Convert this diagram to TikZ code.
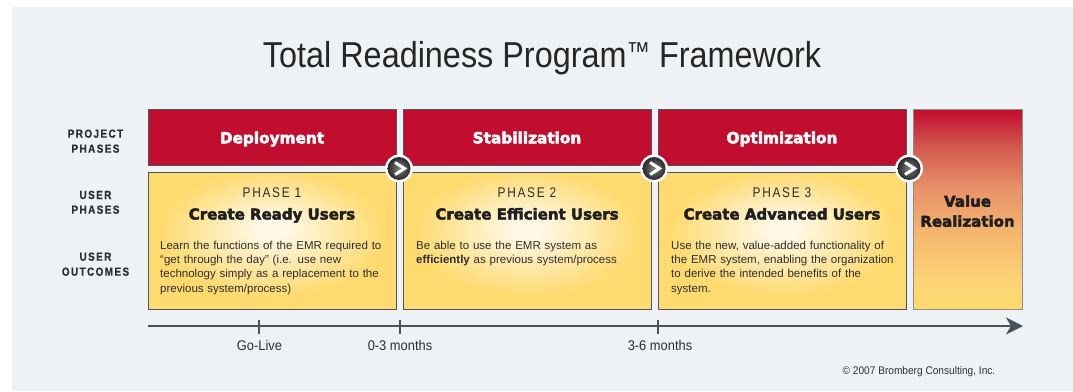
\documentclass[tikz,border=0pt]{standalone}
\usepackage{fontspec}
\setmainfont{Liberation Sans}
\newfontfamily\titlefont[FakeStretch=0.9]{Liberation Sans}
\newfontfamily\heavyfont[BoldFeatures={FakeBold=3}]{DejaVu Sans}
\newfontfamily\lblfont[FakeStretch=0.85,LetterSpace=12,BoldFeatures={FakeBold=0.6}]{Liberation Sans}
\newfontfamily\phasefont[FakeStretch=0.85,LetterSpace=12]{Liberation Sans}
\newfontfamily\condfont[FakeStretch=0.92]{Liberation Sans}
\usetikzlibrary{arrows.meta}
\definecolor{bgc}{HTML}{EEF2F4}
\definecolor{redc}{HTML}{C10E2F}
\definecolor{bordc}{HTML}{4A5663}
\definecolor{yel}{HTML}{FFDA6E}
\definecolor{glowc}{HTML}{FFF8E6}
\definecolor{txtc}{HTML}{2E2E2E}
\definecolor{axisc}{HTML}{46535E}
\definecolor{yeltwo}{HTML}{FDD576}
\definecolor{orgone}{HTML}{F5BA6E}
\definecolor{orgtwo}{HTML}{E8926A}
\definecolor{redtwo}{HTML}{D2574D}
\definecolor{vbord}{HTML}{8A8C8E}
\pgfdeclareradialshading{yglow}{\pgfpoint{0bp}{5bp}}{color(0bp)=(glowc); color(3bp)=(glowc); color(23bp)=(yel); color(50bp)=(yel)}
\pgfdeclareverticalshading{vgrad}{100bp}{color(0bp)=(yel); color(25bp)=(yel); color(31bp)=(yeltwo); color(43bp)=(orgone); color(55bp)=(orgtwo); color(66bp)=(redtwo); color(75bp)=(redc); color(100bp)=(redc)}
\begin{document}
\begin{tikzpicture}[x=1pt,y=-1pt,
  redbox/.style={fill=redc, draw=bordc, line width=0.9pt, inner sep=0pt, anchor=north west, minimum width=248pt, minimum height=56pt},
  ybox/.style={shade, shading=yglow, draw=bordc, line width=0.9pt, inner sep=0pt, anchor=north west, minimum width=248pt, minimum height=137pt},
  vbox/.style={shade, shading=vgrad, draw=vbord, line width=0.9pt, inner sep=0pt, anchor=north west, minimum width=109pt, minimum height=200pt},
  redtxt/.style={anchor=base, inner sep=0pt, text=white, font=\heavyfont\bfseries\fontsize{15.3}{18}\selectfont},
  headtxt/.style={anchor=base, inner sep=0pt, text=black!88, font=\heavyfont\bfseries\fontsize{15}{20}\selectfont},
  phasetxt/.style={anchor=base, inner sep=0pt, text=txtc, font=\phasefont\fontsize{14}{14}\selectfont},
  bodytxt/.style={anchor=north west, inner sep=0pt, text width=250pt, align=left, text=txtc, font=\fontsize{11.5}{14.2}\selectfont},
  sidetxt/.style={anchor=base, inner sep=0pt, align=center, text=black!82, font=\lblfont\bfseries\fontsize{11.7}{15}\selectfont},
  axtxt/.style={anchor=base, inner sep=0pt, text=txtc, font=\condfont\fontsize{14}{14}\selectfont},
  arrowdot/.style={circle, fill=white, minimum size=28pt, inner sep=0pt},
  axisline/.style={draw=axisc, line width=2.6pt},
  tickline/.style={draw=axisc, line width=2pt}
]
\useasboundingbox (0,0) rectangle (1073,391);
\fill[bgc] (12,7) rectangle (1073,391);

% title
\node[anchor=base, inner sep=0pt, text=black!85, font=\titlefont\fontsize{36}{36}\selectfont] (title) at (542,67.7)
  {Total Readiness Program\raisebox{7pt}{\fontsize{26}{26}\selectfont ™} Framework};

% side labels
\node[sidetxt] (lp1) at (95.5,137.7) {PROJECT};
\node[sidetxt] (lp2) at (95.5,152.7) {PHASES};
\node[sidetxt] (lu1) at (95.5,199) {USER};
\node[sidetxt] (lu2) at (95.5,213.7) {PHASES};
\node[sidetxt] (lo1) at (95.5,260.7) {USER};
\node[sidetxt] (lo2) at (95.5,275.7) {OUTCOMES};

% red boxes
\node[redbox] (r1) at (148,109) {};
\node[redbox] (r2) at (403,109) {};
\node[redbox] (r3) at (658,109) {};
\node[redtxt] (rt1) at (272,143.3) {Deployment};
\node[redtxt] (rt2) at (527,143.3) {Stabilization};
\node[redtxt] (rt3) at (782,143.3) {Optimization};

% yellow boxes
\node[ybox] (u1) at (148,172) {};
\node[ybox] (u2) at (403,172) {};
\node[ybox] (u3) at (658,172) {};

% value box
\node[vbox] (v) at (913,109) {};
\node[headtxt] (vt1) at (967.5,206.7) {Value};
\node[headtxt] (vt2) at (967.5,226.7) {Realization};

% phase texts
\node[phasetxt] (ph1) at (272,197) {PHASE 1};
\node[phasetxt] (ph2) at (527,197) {PHASE 2};
\node[phasetxt] (ph3) at (782,197) {PHASE 3};
\node[headtxt] (h1) at (272,219.5) {Create Ready Users};
\node[headtxt] (h2) at (527,219.5) {Create Efficient Users};
\node[headtxt] (h3) at (782,219.5) {Create Advanced Users};

\node[bodytxt] (b1) at (160,241) {Learn the functions of the EMR required to\\
“get through the day” (i.e. use new\\
technology simply as a replacement to the\\
previous system/process)};
\node[bodytxt] (b2) at (416,241) {Be able to use the EMR system as\\
\textbf{efficiently} as previous system/process};
\node[bodytxt] (b3) at (671,241) {Use the new, value-added functionality of\\
the EMR system, enabling the organization\\
to derive the intended benefits of the\\
system.};

% arrow dots
\foreach \n/\xx in {c1/399,c2/654,c3/909}{
  \node[arrowdot] (\n) at (\xx,168.5) {};
  \shade[inner color=black!50, outer color=black!84] (\n.center) circle[radius=11.5];
  \draw[white, line width=3pt, line cap=butt, line join=miter, miter limit=4]
    ([xshift=-4pt,yshift=6pt]\n.center) -- ([xshift=5.5pt]\n.center) -- ([xshift=-4pt,yshift=-6pt]\n.center);
}

% axis
\coordinate (a0) at (148,326);
\coordinate (a1) at (1023,326);
\draw[axisline, -{Stealth[length=17pt,width=17pt,inset=5pt]}] (a0) -- (a1);
\coordinate (k1t) at (259,319.5); \coordinate (k1b) at (259,334);
\coordinate (k2t) at (400,319.5); \coordinate (k2b) at (400,334);
\coordinate (k3t) at (658,319.5); \coordinate (k3b) at (658,334);
\draw[tickline] (k1t) -- (k1b);
\draw[tickline] (k2t) -- (k2b);
\draw[tickline] (k3t) -- (k3b);
\node[axtxt] (x1) at (259.5,350) {Go-Live};
\node[axtxt] (x2) at (400,350) {0-3 months};
\node[axtxt] (x3) at (660,350) {3-6 months};

\node[anchor=base, inner sep=0pt, text=txtc, font=\condfont\fontsize{11}{11}\selectfont] (copy) at (919,374) {© 2007 Bromberg Consulting, Inc.};
\end{tikzpicture}
\end{document}
